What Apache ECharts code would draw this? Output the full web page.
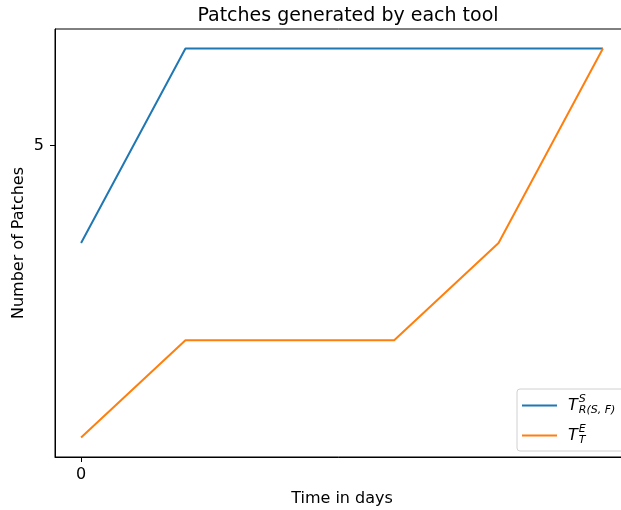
<!DOCTYPE html>
<html>
<head>
<meta charset="utf-8">
<script src="https://cdn.jsdelivr.net/npm/echarts@6/dist/echarts.min.js"></script>
<style>
  html, body { margin: 0; padding: 0; background: #fff; }
  #chart { width: 621px; height: 510px; }
</style>
</head>
<body>
<div id="chart"></div>
<script>
// Days on the x axis and the number of patches per tool
const days = [0, 1, 2, 3, 4, 5];
const toolRSF = [4, 6, 6, 6, 6, 6];
const toolTE = [2, 3, 3, 3, 4, 6];
const xTickValues = [0];
const yTickValues = [5];
const seriesNames = ['RSF', 'TE'];

const pairs = (xs, ys) => xs.map((x, i) => [x, ys[i]]);

const chart = echarts.init(document.getElementById('chart'), null, { renderer: 'canvas' });

const font = 'DejaVu Sans';

const legendRich = {
  t: { fontFamily: font, fontStyle: 'italic', fontSize: 16, color: '#000', padding: [0, 1, 0, 0] },
  sup: { fontFamily: font, fontStyle: 'italic', fontSize: 11, color: '#000', width: 0, padding: [0, 0, 12, 0] },
  sub: { fontFamily: font, fontStyle: 'italic', fontSize: 11, color: '#000', padding: [10, 0, 0, 0] }
};

chart.setOption({
  animation: false,
  backgroundColor: '#fff',
  title: {
    text: 'Patches generated by each tool',
    left: 343,
    textAlign: 'center',
    top: 2,
    textStyle: { fontFamily: font, fontSize: 19, fontWeight: 'normal', color: '#000' }
  },
  grid: {
    left: 55, right: -8, top: 29, bottom: 53,
    outerBoundsMode: 'none',
    containLabel: false,
    show: true, borderColor: '#000', borderWidth: 1, backgroundColor: 'transparent'
  },
  legend: {
    orient: 'vertical',
    left: 517,
    top: 389,
    itemWidth: 35,
    itemHeight: 2,
    itemGap: 8,
    icon: 'rect',
    padding: [5, 14, 5, 5],
    backgroundColor: '#fff',
    borderColor: '#d0d0d0',
    borderWidth: 1,
    borderRadius: 3,
    data: seriesNames,
    formatter: function (name) {
      if (name === 'RSF') return '{t|T}{sup|S}{sub|R(S, F)}';
      return '{t|T}{sup|E}{sub|T}';
    },
    textStyle: { rich: legendRich, padding: [0, 0, 0, 6] }
  },
  xAxis: {
    type: 'value',
    min: -0.25,
    max: 5.25,
    name: 'Time in days',
    nameLocation: 'middle',
    nameGap: 34,
    nameMoveOverlap: false,
    nameTextStyle: { fontFamily: font, fontSize: 16, color: '#000' },
    splitLine: { show: false },
    axisLine: { show: true, onZero: false, lineStyle: { color: '#000', width: 1 } },
    axisTick: { show: true, length: 5, customValues: xTickValues, lineStyle: { color: '#000' } },
    axisLabel: { customValues: xTickValues, fontFamily: font, fontSize: 16, color: '#000', margin: 10 }
  },
  yAxis: {
    type: 'value',
    min: 1.8,
    max: 6.2,
    name: 'Number of Patches',
    nameLocation: 'middle',
    nameGap: 28,
    nameMoveOverlap: false,
    nameRotate: 90,
    nameTextStyle: { fontFamily: font, fontSize: 16, color: '#000' },
    splitLine: { show: false },
    axisLine: { show: true, onZero: false, lineStyle: { color: '#000', width: 1 } },
    axisTick: { show: true, length: 5, customValues: yTickValues, lineStyle: { color: '#000' } },
    axisLabel: { customValues: yTickValues, fontFamily: font, fontSize: 16, color: '#000', margin: 11 }
  },
  series: [
    {
      name: 'RSF',
      type: 'line',
      data: pairs(days, toolRSF),
      showSymbol: false,
      symbol: 'none',
      color: '#1f77b4',
      lineStyle: { width: 2, color: '#1f77b4' }
    },
    {
      name: 'TE',
      type: 'line',
      data: pairs(days, toolTE),
      showSymbol: false,
      symbol: 'none',
      color: '#ff7f0e',
      lineStyle: { width: 2, color: '#ff7f0e' }
    }
  ]
});
</script>
</body>
</html>
